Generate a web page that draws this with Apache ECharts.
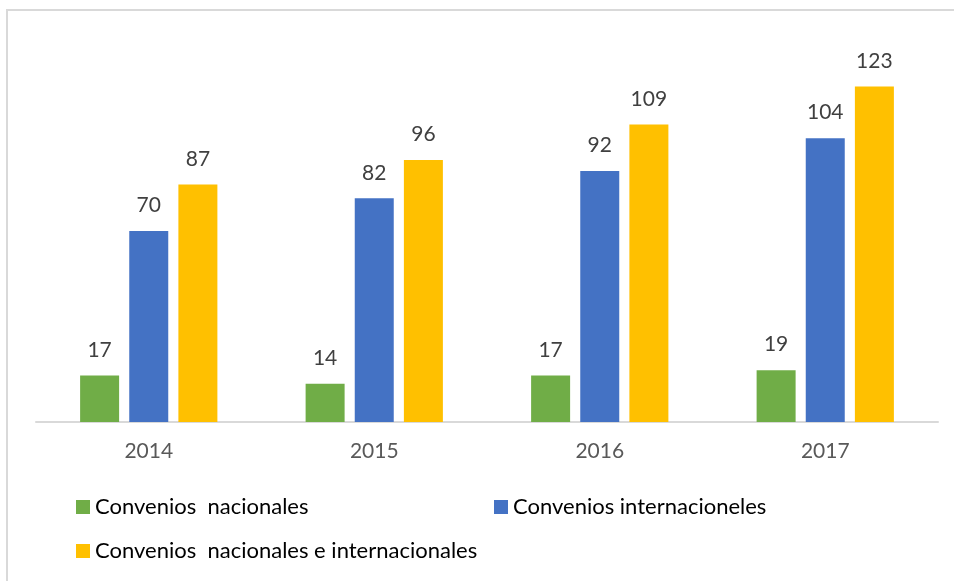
<!DOCTYPE html>
<html>
<head>
<meta charset="utf-8">
<script src="https://cdn.jsdelivr.net/npm/echarts@6/dist/echarts.min.js"></script>
<style>
  html, body { margin: 0; padding: 0; background: #fff; }
  #chart { width: 954px; height: 581px; }
</style>
</head>
<body>
<div id="chart"></div>
<script>
var years = ["2014", "2015", "2016", "2017"];
var nacionales = [17, 14, 17, 19];
var internacionales = [70, 82, 92, 104];
var ambos = [87, 96, 109, 123];
var serieNames = ["Convenios  nacionales", "Convenios internacioneles", "Convenios  nacionales e internacionales"];

var myChart = echarts.init(document.getElementById("chart"));
var font = "Lato, 'Open Sans', sans-serif";

function serie(name, data, color) {
  return {
    name: name,
    type: "bar",
    data: data,
    barWidth: 39,
    barGap: "26%",
    itemStyle: { color: color },
    label: {
      show: true,
      position: "top",
      distance: 15,
      fontFamily: font,
      fontSize: 21,
      color: "#404040"
    }
  };
}

function leyenda(name, left, top) {
  return {
    data: [name],
    left: left,
    top: top,
    icon: "rect",
    itemWidth: 14,
    itemHeight: 14,
    itemGap: 6,
    textStyle: { fontFamily: font, fontSize: 22, color: "#000" }
  };
}

var option = {
  animation: false,
  color: ["#70AD47", "#4472C4", "#FFC000"],
  graphic: [{
    type: "rect",
    shape: { x: 7, y: 10, width: 1000, height: 1000 },
    style: { fill: "none", stroke: "#d9d9d9", lineWidth: 2 },
    silent: true
  }],
  legend: [
    leyenda(serieNames[0], 71, 491),
    leyenda(serieNames[1], 489, 491),
    leyenda(serieNames[2], 71, 535)
  ],
  grid: { left: 36, right: 16, top: 40, bottom: 159 },
  xAxis: {
    type: "category",
    data: years,
    axisLine: { lineStyle: { color: "#d9d9d9", width: 2 } },
    axisTick: { show: false },
    axisLabel: { fontFamily: font, fontSize: 21, color: "#595959", margin: 19 }
  },
  yAxis: {
    type: "value",
    min: 0,
    max: 140,
    show: false,
    splitLine: { show: false }
  },
  series: [
    serie(serieNames[0], nacionales, "#70AD47"),
    serie(serieNames[1], internacionales, "#4472C4"),
    serie(serieNames[2], ambos, "#FFC000")
  ]
};

myChart.setOption(option);
</script>
</body>
</html>
